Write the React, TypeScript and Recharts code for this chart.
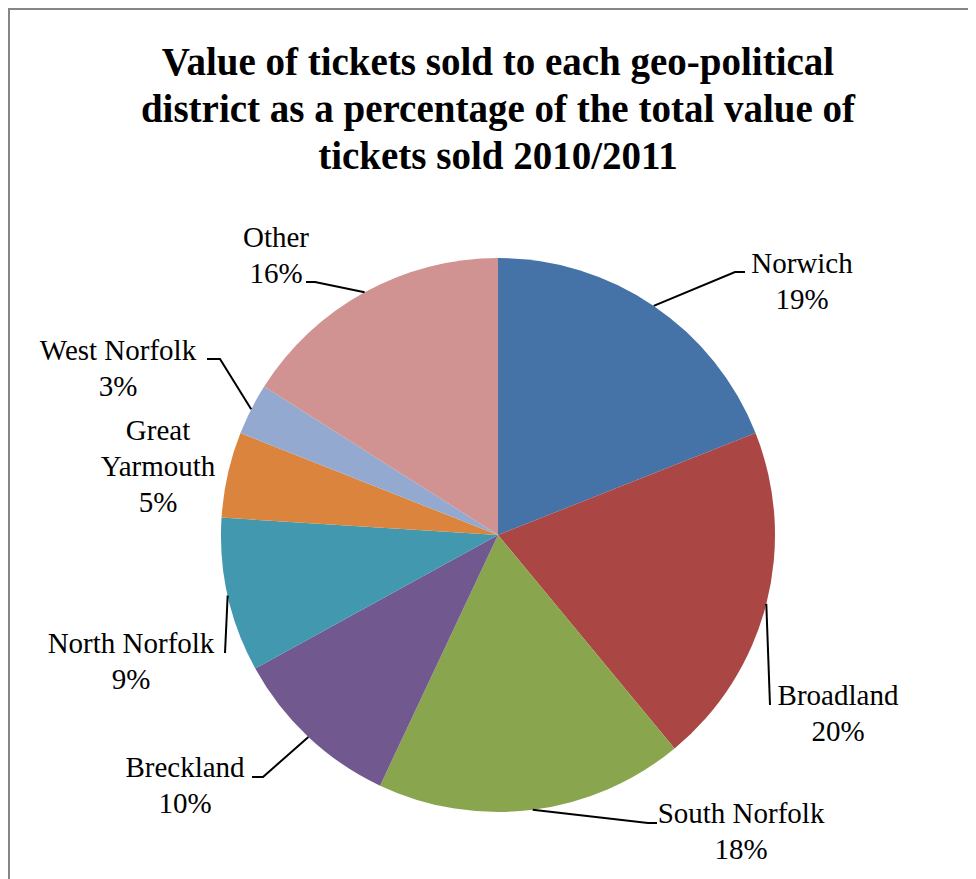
import { PieChart, Pie, Cell } from 'recharts'

const districts = ['Norwich', 'Broadland', 'South Norfolk', 'Breckland', 'North Norfolk', 'Great Yarmouth', 'West Norfolk', 'Other']
const shares = [19, 20, 18, 10, 9, 5, 3, 16]
const colors = ['#4572A7', '#AA4643', '#89A54E', '#71588F', '#4198AF', '#DB843D', '#93A9CF', '#D19392']
const titleLines = [
  'Value of tickets sold to each geo-political',
  'district as a percentage of the total value of',
  'tickets sold 2010/2011',
]

// label placement relative to pie centre: text centre + first baseline, leader elbow, leader end
const labelLayout = [
  { tx: 304, ty: -262, ex: 237, ey: -263, lx: 247, ly: -263 },
  { tx: 340, ty: 170, ex: 272, ey: 170, lx: 272, ly: 170 },
  { tx: 243, ty: 288, ex: 150, ey: 288, lx: 159, ly: 288 },
  { tx: -313, ty: 242, ex: -235, ey: 242, lx: -246, ly: 242 },
  { tx: -367, ty: 118, ex: -273, ey: 118, lx: -273, ly: 118 },
  { tx: -340, ty: -95, wrap: true },
  { tx: -380, ty: -175, ex: -278, ey: -176, lx: -291, ly: -176 },
  { tx: -222, ty: -288, ex: -183, ey: -253, lx: -192, ly: -253 },
]

const data = districts.map((name, i) => ({ name, value: shares[i] }))

const FONT = '"Liberation Serif", "DejaVu Serif", serif'
const RAD = Math.PI / 180

function renderLabel(props: any) {
  const { cx, cy, midAngle, outerRadius, index, name, percent } = props
  const lay: any = labelLayout[index]
  const sx = cx + outerRadius * Math.cos(-midAngle * RAD)
  const sy = cy + outerRadius * Math.sin(-midAngle * RAD)
  const lines = lay.wrap ? String(name).split(' ') : [String(name)]
  lines.push(`${Math.round(percent * 100)}%`)
  return (
    <g key={`lbl-${index}`}>
      {lay.ex !== undefined && (
        <polyline
          points={`${sx},${sy} ${cx + lay.ex},${cy + lay.ey} ${cx + lay.lx},${cy + lay.ly}`}
          fill="none"
          stroke="#000"
          strokeWidth={2}
        />
      )}
      <text x={cx + lay.tx} y={cy + lay.ty} textAnchor="middle" fontFamily={FONT} fontSize={29} fill="#000">
        {lines.map((t, i) => (
          <tspan key={i} x={cx + lay.tx} dy={i === 0 ? 0 : 36}>
            {t}
          </tspan>
        ))}
      </text>
    </g>
  )
}

export default function App() {
  return (
    <div
      style={{
        position: 'relative',
        width: 968,
        height: 871,
        boxSizing: 'border-box',
        borderTop: '2px solid #868686',
        borderLeft: '2px solid #868686',
        background: '#fff',
        overflow: 'hidden',
      }}
    >
      {titleLines.map((t, i) => (
        <div
          key={i}
          style={{
            position: 'absolute',
            top: 28 + i * 47,
            left: 0,
            width: 976,
            textAlign: 'center',
            font: `bold 39px/47px ${FONT}`,
            color: '#000',
            whiteSpace: 'nowrap',
          }}
        >
          {t}
        </div>
      ))}
      <div style={{ position: 'absolute', top: 0, left: 0 }}>
        <PieChart width={958} height={861} margin={{ top: 0, right: 0, bottom: 0, left: 0 }}>
          <Pie
            data={data}
            dataKey="value"
            nameKey="name"
            cx={488}
            cy={525}
            outerRadius={277}
            startAngle={90}
            endAngle={-270}
            stroke="none"
            labelLine={false}
            label={renderLabel}
            isAnimationActive={false}
          >
            {data.map((d, i) => (
              <Cell key={d.name} fill={colors[i]} />
            ))}
          </Pie>
        </PieChart>
      </div>
    </div>
  )
}
